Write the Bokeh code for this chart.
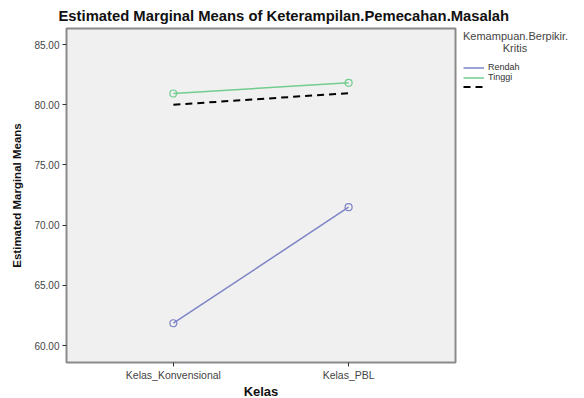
from bokeh.plotting import figure
from bokeh.models import (FactorRange, Range1d, FixedTicker, NumeralTickFormatter,
                          Legend, LegendItem)
from bokeh.embed import file_html
from bokeh.resources import INLINE

categories = ["Kelas_Konvensional", "Kelas_PBL"]
rendah = [61.85, 71.49]
tinggi = [80.93, 81.82]
dashed = [80.00, 80.96]
y_ticks = [60, 65, 70, 75, 80, 85]

title_text = "Estimated Marginal Means of Keterampilan.Pemecahan.Masalah"
legend_title = ["Kemampuan.Berpikir.", "Kritis"]

FONT = "Liberation Sans"
FW, FH = 389, 334
ML, MT, MR, MB = 66, 28, 129, 36

p = figure(x_range=FactorRange(factors=categories, range_padding=0.11,
                               range_padding_units="absolute"),
           y_range=Range1d(58.59, 86.33),
           frame_width=FW, frame_height=FH,
           min_border_left=ML, min_border_top=MT, min_border_right=MR,
           min_border_bottom=MB, output_backend="svg", toolbar_location=None,
           background_fill_color="#f0f0f0", border_fill_color="white")

p.title.text = title_text
p.title.align = "left"
p.title.offset = -8
p.title.text_font = FONT
p.title.text_font_size = "14.8px"
p.title.text_font_style = "bold"
p.title.text_color = "#111111"
p.title.standoff = 9

p.outline_line_color = "#8a8a8a"
p.outline_line_width = 2
p.xgrid.visible = False
p.ygrid.visible = False

for ax in (p.xaxis[0], p.yaxis[0]):
    ax.axis_line_color = "#8a8a8a"
    ax.axis_line_width = 1
    ax.major_tick_line_color = "#333333"
    ax.major_tick_in = 0
    ax.major_tick_out = 4
    ax.minor_tick_line_color = None
    ax.major_label_text_font = FONT
    ax.major_label_text_color = "#444444"
    ax.axis_label_text_font = FONT
    ax.axis_label_text_font_style = "bold"
    ax.axis_label_text_color = "#111111"

p.yaxis.ticker = FixedTicker(ticks=y_ticks)
p.yaxis.formatter = NumeralTickFormatter(format="0.00")
p.yaxis.major_label_text_font_size = "10px"
p.yaxis.major_label_standoff = 3
p.yaxis.axis_label = "Estimated Marginal Means"
p.yaxis.axis_label_text_font_size = "11.5px"
p.yaxis.axis_label_standoff = 8

p.xaxis.major_label_text_font_size = "10.5px"
p.xaxis.major_label_standoff = 2
p.xaxis.axis_label = "Kelas"
p.xaxis.axis_label_text_font_size = "13px"
p.xaxis.axis_label_standoff = 0

blue = "#7d84c6"
green = "#72cc8e"

r1 = p.line(categories, rendah, line_color=blue, line_width=1.5)
p.scatter(categories, rendah, marker="circle", size=7, fill_color=None,
          line_color=blue, line_width=1.2)
r2 = p.line(categories, tinggi, line_color=green, line_width=1.5)
p.scatter(categories, tinggi, marker="circle", size=7, fill_color=None,
          line_color=green, line_width=1.2)
r3 = p.line(categories, dashed, line_color="black", line_width=2, line_dash="7 5")

legend = Legend(items=[LegendItem(label="Rendah", renderers=[r1]),
                       LegendItem(label="Tinggi", renderers=[r2]),
                       LegendItem(label=" ", renderers=[r3])],
                title=legend_title[0] + "\n" + "\u00a0" * 13 + legend_title[1],
                title_text_font=FONT, title_text_font_size="11px",
                title_text_font_style="normal", title_text_color="#444444",
                title_text_line_height=0.9, title_standoff=8,
                location=(8, 271), orientation="vertical",
                glyph_width=21, glyph_height=9, label_height=9,
                label_text_font=FONT, label_text_font_size="9px",
                label_text_color="#333333", label_standoff=4, spacing=0,
                padding=0, margin=0, border_line_color=None,
                background_fill_alpha=0)
p.add_layout(legend, "right")

open("out.html", "w").write(file_html(p, INLINE))
